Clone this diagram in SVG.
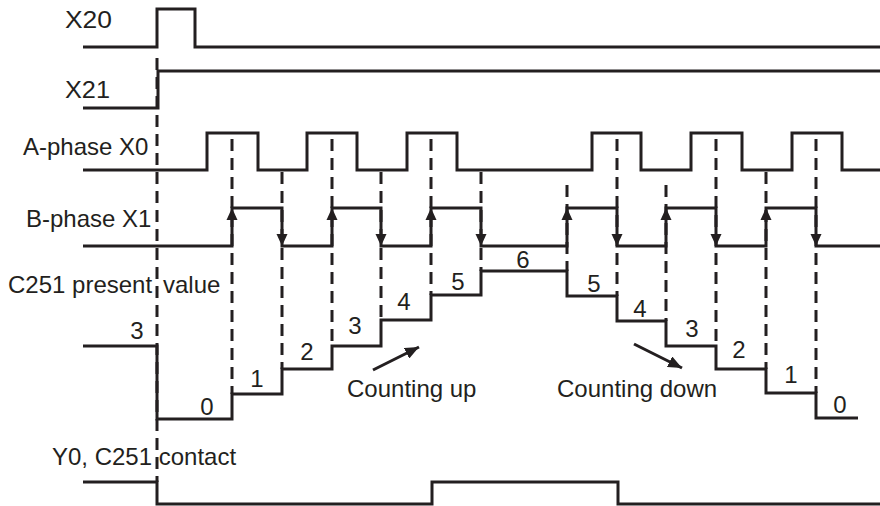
<svg xmlns="http://www.w3.org/2000/svg" width="880" height="506" viewBox="0 0 880 506">
<style>
.w{fill:none;stroke:#231f20;stroke-width:3;stroke-linejoin:miter;stroke-linecap:butt}
.d{fill:none;stroke:#231f20;stroke-width:3;stroke-dasharray:12 7}
.t{font-family:"Liberation Sans",Arial,sans-serif;font-size:24px;fill:#231f20}
.n{font-family:"Liberation Sans",Arial,sans-serif;font-size:24px;fill:#231f20;text-anchor:middle}
.a{fill:#231f20}
</style>
<defs>
<path id="up" d="M0,0 L5.5,12 L-5.5,12 Z"/>
<path id="dn" d="M0,0 L5.5,-12 L-5.5,-12 Z"/>
<marker id="ah" markerUnits="userSpaceOnUse" markerWidth="14" markerHeight="12" refX="14" refY="6" orient="auto">
<path d="M0,0 L14,6 L0,12 Z" fill="#231f20"/>
</marker>
</defs>
<rect width="880" height="506" fill="#fff"/>
<g id="connectors">
<path class="d" d="M157,58 V482"/>
<path class="d" d="M232,139 V394"/>
<path class="d" d="M282,172 V369"/>
<path class="d" d="M332,139 V346"/>
<path class="d" d="M381,172 V320"/>
<path class="d" d="M431,139 V295"/>
<path class="d" d="M481,172 V271"/>
<path class="d" d="M567,185 V271"/>
<path class="d" d="M617,139 V296"/>
<path class="d" d="M666,185 V321"/>
<path class="d" d="M716,139 V346"/>
<path class="d" d="M766,172 V369"/>
<path class="d" d="M816,139 V393"/>
</g>
<g id="x20">
<text class="t" x="65" y="28" font-size="22" textLength="47" lengthAdjust="spacingAndGlyphs">X20</text>
<path class="w" d="M83,47 H157 V9 H195 V47 H880"/>
</g>
<g id="x21">
<text class="t" x="65" y="98" font-size="22" textLength="45" lengthAdjust="spacingAndGlyphs">X21</text>
<path class="w" d="M83,108 H158 V71 H880"/>
</g>
<g id="a-phase">
<text class="t" x="23" y="155">A-phase X0</text>
<path class="w" d="M83,170 H207 V133 H258 V170 H307 V133 H357 V170 H407 V133 H457 V170 H592 V133 H641 V170 H691 V133 H742 V170 H792 V133 H842 V170 H880"/>
</g>
<g id="b-phase">
<text class="t" x="26" y="227">B-phase X1</text>
<path class="w" d="M83,246 H232 V208 H282 V246 H332 V208 H381 V246 H431 V208 H481 V246 H567 V208 H617 V246 H666 V208 H716 V246 H766 V208 H816 V246 H880"/>
<use href="#up" class="a" x="232" y="208"/>
<use href="#up" class="a" x="332" y="208"/>
<use href="#up" class="a" x="431" y="208"/>
<use href="#up" class="a" x="567" y="208"/>
<use href="#up" class="a" x="666" y="208"/>
<use href="#up" class="a" x="766" y="208"/>
<use href="#dn" class="a" x="282" y="246"/>
<use href="#dn" class="a" x="381" y="246"/>
<use href="#dn" class="a" x="481" y="246"/>
<use href="#dn" class="a" x="617" y="246"/>
<use href="#dn" class="a" x="716" y="246"/>
<use href="#dn" class="a" x="816" y="246"/>
</g>
<g id="c251">
<text class="t" x="8" y="293">C251 present</text>
<text class="t" x="163" y="293">value</text>
<path class="w" d="M83,346 H157 V419 H232 V394 H282 V369 H332 V346 H381 V320 H431 V295 H481 V271 H567 V296 H617 V321 H666 V346 H716 V369 H766 V393 H816 V418 H858"/>
<text class="n" x="137" y="339">3</text>
<text class="n" x="207" y="415">0</text>
<text class="n" x="257" y="387">1</text>
<text class="n" x="307" y="360">2</text>
<text class="n" x="355" y="334">3</text>
<text class="n" x="404" y="310">4</text>
<text class="n" x="458" y="290">5</text>
<text class="n" x="523" y="268">6</text>
<text class="n" x="594" y="292">5</text>
<text class="n" x="640" y="317">4</text>
<text class="n" x="692" y="337">3</text>
<text class="n" x="739" y="358">2</text>
<text class="n" x="791" y="383">1</text>
<text class="n" x="840" y="413">0</text>
</g>
<g id="counting-up">
<path class="w" d="M373,370 L419,347" marker-end="url(#ah)"/>
<text class="t" x="347" y="397">Counting up</text>
</g>
<g id="counting-down">
<path class="w" d="M634,344 L682,368" marker-end="url(#ah)"/>
<text class="t" x="557" y="397">Counting down</text>
</g>
<g id="y0">
<text class="t" x="52" y="465">Y0, C251 contact</text>
<path class="w" d="M83,482 H157 V504 H432 V482 H618 V504 H880"/>
</g>
</svg>
